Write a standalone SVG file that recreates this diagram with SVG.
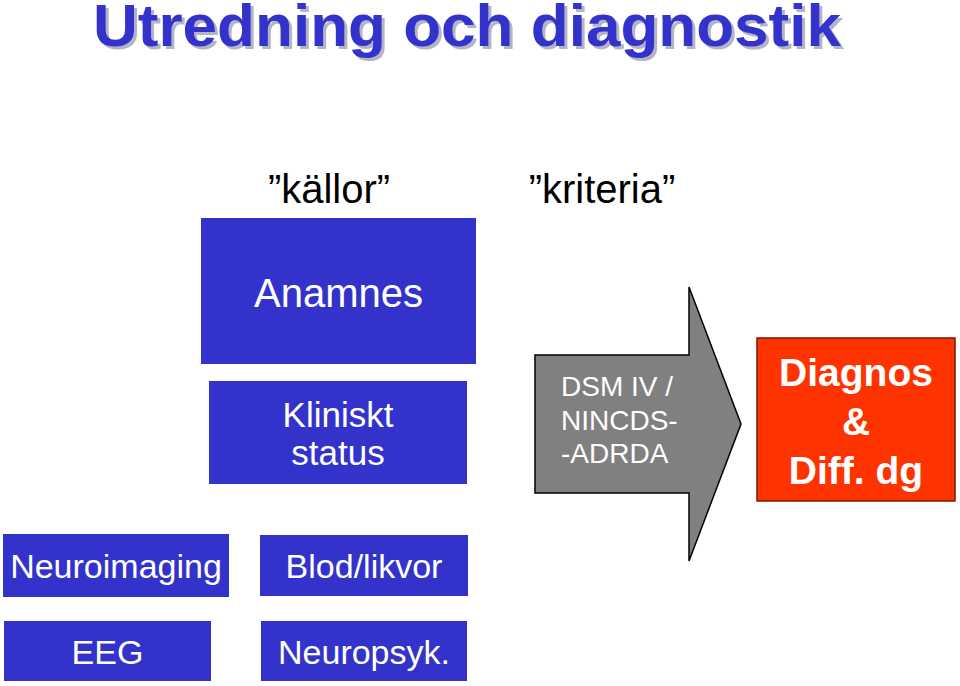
<svg xmlns="http://www.w3.org/2000/svg" width="960" height="686" viewBox="0 0 960 686">
<style>
.box{fill:#3333CC;}
.wt{font-family:"Liberation Sans",Arial,sans-serif;fill:#FFFFFF;text-anchor:middle;}
.bk{font-family:"Liberation Sans",Arial,sans-serif;fill:#000000;text-anchor:middle;font-size:40px;}
.title{font-family:"Liberation Sans",Arial,sans-serif;font-weight:bold;font-size:60px;}
</style>
<rect width="960" height="686" fill="#FFFFFF"/>
<g id="title">
<text class="title" x="96" y="49" fill="#B4B4C8" textLength="748" lengthAdjust="spacingAndGlyphs">Utredning och diagnostik</text>
<text class="title" x="93" y="46" fill="#3333CC" textLength="748" lengthAdjust="spacingAndGlyphs">Utredning och diagnostik</text>
</g>
<g id="label-kallor"><text class="bk" x="329" y="203">”källor”</text></g>
<g id="label-kriteria"><text class="bk" x="602" y="203">”kriteria”</text></g>
<g id="anamnes">
<rect class="box" x="201" y="218" width="275" height="146"/>
<text class="wt" x="338.5" y="307" font-size="40">Anamnes</text>
</g>
<g id="kliniskt">
<rect class="box" x="209" y="381" width="258" height="103"/>
<text class="wt" x="338" y="427" font-size="35">Kliniskt</text>
<text class="wt" x="338" y="465" font-size="35">status</text>
</g>
<g id="neuroimaging">
<rect class="box" x="3" y="534" width="226" height="63"/>
<text class="wt" x="116" y="578" font-size="34">Neuroimaging</text>
</g>
<g id="blod">
<rect class="box" x="260" y="535" width="208" height="61"/>
<text class="wt" x="364" y="578" font-size="34">Blod/likvor</text>
</g>
<g id="eeg">
<rect class="box" x="4" y="621" width="207" height="60"/>
<text class="wt" x="107.5" y="664" font-size="34">EEG</text>
</g>
<g id="neuropsyk">
<rect class="box" x="261" y="621" width="206" height="60"/>
<text class="wt" x="364" y="664" font-size="34">Neuropsyk.</text>
</g>
<g id="connectors">
<g id="criteria-arrow">
<polygon points="535,355 689,355 689,287 741,424 689,561 689,493 535,493" fill="#808080" stroke="#000000" stroke-width="1.5" stroke-linejoin="miter"/>
<text x="561" y="396" font-family="'Liberation Sans',Arial,sans-serif" font-size="28" fill="#FFFFFF">DSM IV /</text>
<text x="561" y="430" font-family="'Liberation Sans',Arial,sans-serif" font-size="28" fill="#FFFFFF">NINCDS-</text>
<text x="561" y="463" font-family="'Liberation Sans',Arial,sans-serif" font-size="28" fill="#FFFFFF">-ADRDA</text>
</g>
</g>
<g id="diagnos">
<rect x="757" y="338" width="198" height="163" fill="#FF3300" stroke="#7A1A00" stroke-width="1.5"/>
<text class="wt" x="856" y="386" font-size="39" font-weight="bold">Diagnos</text>
<text class="wt" x="856" y="435" font-size="39" font-weight="bold">&amp;</text>
<text class="wt" x="856" y="484" font-size="39" font-weight="bold">Diff. dg</text>
</g>
</svg>
